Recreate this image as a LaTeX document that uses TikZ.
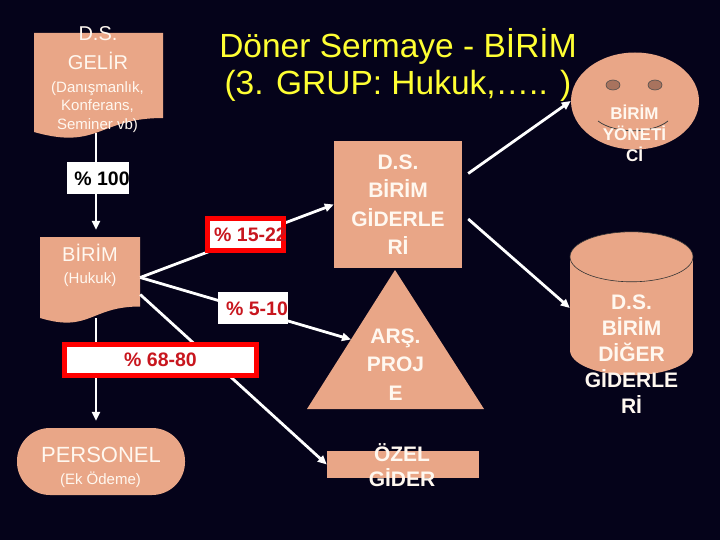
\documentclass[tikz,border=0pt]{standalone}
\usepackage{fontspec}
\setmainfont{Liberation Sans}
\usetikzlibrary{arrows.meta,positioning,calc,shapes.geometric}
\definecolor{Night}{HTML}{05031A}
\definecolor{Salmon}{HTML}{E9A687}
\definecolor{Cream}{HTML}{FFF8F0}
\definecolor{Lemon}{HTML}{FFFF33}
\definecolor{Signal}{HTML}{FF0000}
\definecolor{Brick}{HTML}{C8161E}
\definecolor{Eye}{HTML}{A8735E}

\begin{document}
\begin{tikzpicture}[x=1pt, y=-1pt,
  every node/.style={inner sep=0pt, text=Cream, align=center},
  head/.style={font=\fontsize{20}{29}\selectfont},
  sub/.style={font=\fontsize{15}{18.5}\selectfont},
  heavy/.style={font=\fontsize{21}{28.5}\selectfont\bfseries},
  title/.style={font=\fontsize{33.5}{37}\selectfont, text=Lemon},
  pctbox/.style={fill=white, minimum width=#1, minimum height=32pt},
  redbox/.style={fill=white, draw=Signal, line width=5pt, minimum width=#1, minimum height=32pt},
  pct/.style={font=\fontsize{19.5}{19.5}\selectfont\bfseries, text=Brick},
  conn/.style={draw=white, line width=2.8pt},
  arr/.style={conn, -{Triangle[length=9pt,width=8pt]}}]
  % backdrop
  \fill[Night] (0,0) rectangle (720,540);
  \node[title] (title) at (398,64.5) {Döner Sermaye - BİRİM\\(3. GRUP: Hukuk,….. )};

  % income (document shape)
  \fill[Salmon] (34,33) -- (163,33) -- (163,118) .. controls (98.5,118) and (98.5,150.4) .. (34,132) -- cycle;
  \node[minimum width=129pt, minimum height=100pt] (gelir) at (98.5,83) {};
  \node[head] (gelirhead) at (98,48.5) {D.S.\\GELİR};
  \node[sub] (gelirsub) at (97.5,107) {(Danışmanlık,\\Konferans,\\Seminer vb)};

  % unit (document shape)
  \fill[Salmon] (40,237) -- (140,237) -- (140,306.5) .. controls (90,306.5) and (90,333) .. (40,318) -- cycle;
  \node[minimum width=100pt, minimum height=81pt] (birim) at (90,277.5) {};
  \node[font=\fontsize{20}{20}\selectfont] (birimhead) at (90,252.5) {BİRİM};
  \node[sub] (birimsub) at (90,280) {(Hukuk)};

  % expenses
  \node[heavy, fill=Salmon, minimum width=128pt, minimum height=127pt] (dsgider) at (398,204.5) {D.S.\\BİRİM\\GİDERLE\\Rİ};

  \coordinate (arstop) at (395,270);
  \coordinate (arsleft) at (307,409);
  \coordinate (arsright) at (484,409);
  \fill[Salmon] (arstop) -- (arsleft) -- (arsright) -- cycle;
  \node[heavy] (arsproj) at (395.5,364.5) {ARŞ.\\PROJ\\E};

  \node[fill=Salmon, minimum width=152pt, minimum height=27pt] (ozel) at (403,464.5) {};
  \node[font=\fontsize{21}{25}\selectfont\bfseries] (ozeltext) at (402,465) {ÖZEL\\GİDER};

  % staff
  \node[fill=Salmon, rounded corners=33pt, minimum width=168pt, minimum height=67pt] (pers) at (101,461.5) {};
  \node[font=\fontsize{22}{22}\selectfont] (perstitle) at (101,455) {PERSONEL};
  \node[sub] (perssub) at (100.5,479.5) {(Ek Ödeme)};

  % manager face
  \node[ellipse, fill=Salmon, minimum width=128pt, minimum height=97pt] (yon) at (635,101) {};
  \node[ellipse, fill=Eye, draw=black!70, line width=0.6pt, minimum width=14pt, minimum height=10pt] (eyel) at (613,85) {};
  \node[ellipse, fill=Eye, draw=black!70, line width=0.6pt, minimum width=14pt, minimum height=10pt] (eyer) at (655,85) {};
  \draw[black!75, line width=0.8pt] (598,121) .. controls (615,134) and (652,134) .. (668,121);
  \node[font=\fontsize{17}{21}\selectfont\bfseries] (yontext) at (634.5,133) {BİRİM\\YÖNETİ\\Cİ};

  % other expenses (cylinder)
  \node[minimum width=123pt, minimum height=93pt] (cyl) at (631.5,303.5) {};
  \fill[Salmon] (cyl.north west) rectangle (cyl.south east);
  \fill[Salmon] (cyl.south) ellipse [x radius=61.5pt, y radius=25pt];
  \filldraw[fill=Salmon, draw=black!80, line width=0.6pt] (cyl.north) ellipse [x radius=61.5pt, y radius=25pt];
  \node[font=\fontsize{21}{26}\selectfont\bfseries] (cyltext) at (631.5,354.5) {D.S.\\BİRİM\\DİĞER\\GİDERLE\\Rİ};

  % connectors
  \coordinate (spine) at (96,0);
  \draw[arr, shorten >=7pt] (gelir.south -| spine) -- (birim.north -| spine);
  \draw[arr, shorten >=7pt] (birim.south -| spine) -- (pers.north -| spine);
  \draw[arr] (birim.east) -- (dsgider.west);
  \draw[arr] (birim.east) -- ($(arsleft)!0.5!(arstop)$);
  \draw[arr] ([yshift=-17pt]birim.east) -- (ozel.west);
  \draw[arr] ([xshift=6pt,yshift=31pt]dsgider.east) -- (yon.west);
  \draw[arr] ([xshift=6pt,yshift=-14.5pt]dsgider.east) -- ([yshift=-4.5pt]cyl.west);

  % shares
  \node[pctbox=62pt] (p100) at (98,178.5) {};
  \node[pct, text=black] (p100t) at (102,178.5) {\% 100};
  \node[redbox=76pt] (p1522) at (245.5,234.5) {};
  \node[pct] (p1522t) at (250.5,234.5) {\% 15-22};
  \node[pctbox=70pt] (p510) at (253,307.5) {};
  \node[pct] (p510t) at (257,309) {\% 5-10};
  \node[redbox=192pt, minimum height=31pt] (p6880) at (160.5,360) {};
  \node[pct] (p6880t) at (160.5,359.5) {\% 68-80};
\end{tikzpicture}
\end{document}
